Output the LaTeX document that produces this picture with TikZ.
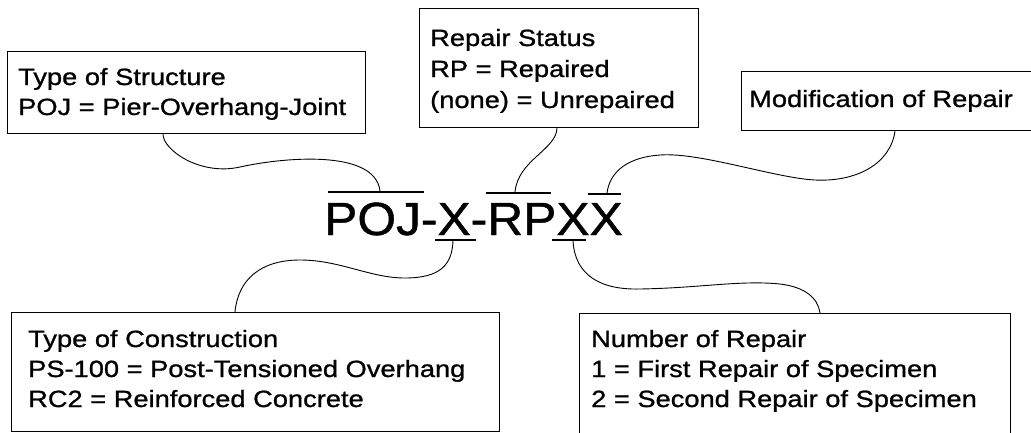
\documentclass[tikz,border=0pt]{standalone}
\usepackage{fontspec}
\setmainfont{Liberation Sans}
\newfontfamily\boxfont[FakeStretch=1.16,FakeBold=1]{Liberation Sans}
\newfontfamily\bigfont[FakeStretch=1.07,FakeBold=1]{Liberation Sans}
\begin{document}
\begin{tikzpicture}[x=1pt,y=-1pt,
  box/.style={draw=black, line width=1.2pt, anchor=north west, inner sep=0pt, fill=none},
  txt/.style={anchor=base west, inner sep=0pt, font=\boxfont\fontsize{23.5}{30}\selectfont},
  bigtxt/.style={anchor=base west, inner sep=0pt, font=\bigfont\fontsize{46.5}{50}\selectfont},
  bar/.style={line width=2pt, line cap=butt},
  conn/.style={line width=0.9pt, black}]
\useasboundingbox (0,0) rectangle (1031,432);
\fill[white] (0,0) rectangle (1031,432);

% boxes
\node[box, minimum width=358pt, minimum height=82pt] (b1) at (7,51) {};
\node[box, minimum width=279pt, minimum height=119pt] (b2) at (419,8) {};
\node[box, minimum width=300pt, minimum height=59pt] (b3) at (741,71) {};
\node[box, minimum width=488pt, minimum height=119pt] (b4) at (11,312) {};
\node[box, minimum width=431pt, minimum height=125pt] (b5) at (579,313) {};

% box texts
\node[txt] (t1) at (18,85) {\begin{tabular}[t]{@{}l@{}}Type of Structure\\POJ = Pier-Overhang-Joint\end{tabular}};
\node[txt, font=\boxfont\fontsize{23.5}{31}\selectfont] (t2) at (430,46) {\begin{tabular}[t]{@{}l@{}}Repair Status\\RP = Repaired\\(none) = Unrepaired\end{tabular}};
\node[txt] (t3) at (749,107) {Modification of Repair};
\node[txt] (t4) at (28,347) {\begin{tabular}[t]{@{}l@{}}Type of Construction\\PS-100 = Post-Tensioned Overhang\\RC2 = Reinforced Concrete\end{tabular}};
\node[txt] (t5) at (591,347) {\begin{tabular}[t]{@{}l@{}}Number of Repair\\1 = First Repair of Specimen\\2 = Second Repair of Specimen\end{tabular}};

% central code
\node[bigtxt] (code) at (324,235) {POJ-X-RPXX};
\draw[bar] (328,192) -- (424,192);
\draw[bar] (486,193) -- (551,193);
\draw[bar] (588,194) -- (621,194);
\draw[bar] (435,240) -- (476,240);
\draw[bar] (552,240) -- (586,240);

\coordinate (o1) at (380,191);
\coordinate (o2) at (515,192);
\coordinate (o3) at (607,193);
\coordinate (u1) at (453,241);
\coordinate (u2) at (573,241);

% connectors
\draw[conn] ([xshift=156pt]b1.south west) .. controls (163,150) and (200,176) .. (240,167)
  .. controls (280,158) and (375,148) .. (o1);
\draw[conn] ([xshift=138pt]b2.south west) .. controls (556,150) and (518,160) .. (o2);
\draw[conn] ([xshift=154pt]b3.south west) .. controls (890,165) and (855,182) .. (815,180)
  .. controls (775,178) and (700,152) .. (660,155)
  .. controls (630,157) and (610,170) .. (o3);
\draw[conn] ([xshift=224pt]b4.north west) .. controls (238,280) and (260,260) .. (300,260)
  .. controls (340,260) and (370,278) .. (405,278)
  .. controls (440,278) and (452,265) .. (u1);
\draw[conn] (u2) .. controls (575,275) and (600,290) .. (640,289)
  .. controls (700,288) and (740,280) .. (780,284)
  .. controls (805,287) and (818,298) .. ([xshift=241pt]b5.north west);
\end{tikzpicture}
\end{document}
